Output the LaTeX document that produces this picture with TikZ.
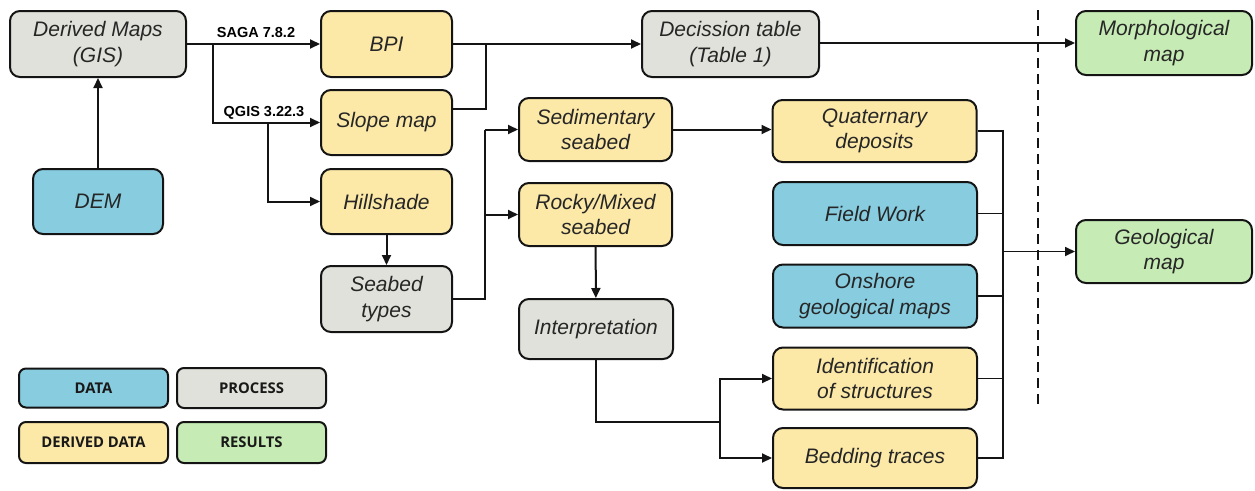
\documentclass[tikz,border=0pt]{standalone}
\usepackage{fontspec}
\setmainfont{Liberation Sans}
\newfontfamily\legendfont{Open Sans}
\usetikzlibrary{arrows.meta}
\definecolor{cdata}{RGB}{135,204,223}
\definecolor{cproc}{RGB}{225,225,219}
\definecolor{cderiv}{RGB}{252,233,168}
\definecolor{cres}{RGB}{198,235,181}
\definecolor{cline}{RGB}{20,20,20}
\tikzset{
  box/.style={draw=cline, line width=2pt, rounded corners=10pt, align=center, inner sep=0pt,
    font=\itshape\fontsize{21}{25.5}\selectfont, text=black!85},
  leg/.style={draw=cline, line width=2pt, rounded corners=7pt, align=center, inner sep=0pt,
    font=\legendfont\bfseries\fontsize{14.8}{16}\selectfont, text=black!90},
  conn/.style={draw=cline, line width=2pt},
  arr/.style={conn, -{Triangle[length=10pt,width=9pt]}},
  swlabel/.style={font=\bfseries\fontsize{14.5}{16}\selectfont, inner sep=0pt}
}
\begin{document}
\begin{tikzpicture}[x=1pt,y=-1pt]
\useasboundingbox (0,0) rectangle (1255,490);
% nodes
\node[box, fill=cproc, minimum width=176pt, minimum height=66pt] (dm) at (98,44) {Derived Maps\\(GIS)};
\node[box, fill=cdata, minimum width=130pt, minimum height=65pt] (dem) at (98,201.5) {DEM};
\node[box, fill=cderiv, minimum width=131pt, minimum height=66pt] (bpi) at (386.5,44) {BPI};
\node[box, fill=cderiv, minimum width=131pt, minimum height=65pt] (slope) at (386.5,122.5) {Slope map};
\node[box, fill=cderiv, minimum width=131pt, minimum height=65pt] (hill) at (386.5,201.5) {Hillshade};
\node[box, fill=cproc, minimum width=131pt, minimum height=66pt] (seabed) at (386.5,299) {Seabed\\types};
\node[box, fill=cproc, minimum width=177pt, minimum height=66pt] (dec) at (730.5,44) {Decission table\\(Table 1)};
\node[box, fill=cres, minimum width=176pt, minimum height=64pt] (morph) at (1164,43) {Morphological\\map};
\node[box, fill=cderiv, minimum width=153pt, minimum height=63pt] (sed) at (595.5,129.5) {Sedimentary\\seabed};
\node[box, fill=cderiv, minimum width=153pt, minimum height=63pt] (rocky) at (595.5,214.5) {Rocky/Mixed\\seabed};
\node[box, fill=cproc, minimum width=154pt, minimum height=60pt] (interp) at (596,329) {Interpretation};
\node[box, fill=cderiv, minimum width=204pt, minimum height=62pt] (quat) at (874.5,131) {Quaternary\\deposits};
\node[box, fill=cdata, minimum width=204pt, minimum height=63pt] (field) at (875,213.5) {Field Work};
\node[box, fill=cdata, minimum width=204pt, minimum height=63pt] (onshore) at (875,296) {Onshore\\geological maps};
\node[box, fill=cderiv, minimum width=204pt, minimum height=62pt] (ident) at (875,378.5) {Identification\\of structures};
\node[box, fill=cderiv, minimum width=204pt, minimum height=60pt] (bed) at (875,458) {Bedding traces};
\node[box, fill=cres, minimum width=176pt, minimum height=63pt] (geo) at (1164,251.5) {Geological\\map};
% legend
\node[leg, fill=cdata, minimum width=149pt, minimum height=39pt] (ldata) at (93.5,388) {DATA};
\node[leg, fill=cproc, minimum width=149pt, minimum height=40pt] (lproc) at (251.5,388) {PROCESS};
\node[leg, fill=cderiv, minimum width=149pt, minimum height=41pt] (lderiv) at (93.5,442.5) {DERIVED DATA};
\node[leg, fill=cres, minimum width=149pt, minimum height=41pt] (lres) at (251.5,442.5) {RESULTS};
% coordinates
\coordinate (j1) at (213,44);
\coordinate (j2) at (268,122.5);
\coordinate (j3) at (486,44);
\coordinate (j4) at (485,299);
\coordinate (j5) at (720,422);
\coordinate (bus) at (1003,131);
% connectors
\draw[arr] (dem) -- (dm);
\draw[arr] (dm.east) -- (bpi.west);
\node[swlabel, anchor=base] (saga) at (256,37) {SAGA 7.8.2};
\draw[arr] (j1) |- (slope.west);
\node[swlabel, anchor=base] (qgis) at (264,116) {QGIS 3.22.3};
\draw[arr] (j2) |- (hill.west);
\draw[arr] (hill) -- (seabed);
\draw[arr] (bpi.east) -- (dec.west);
\draw[conn] (slope.east |- 0,109) -| (j3);
\draw[conn] (seabed.east) -- (j4) -- (j4 |- sed.west);
\draw[arr] (j4 |- sed.west) -- (sed.west);
\draw[arr] (j4 |- rocky.west) -- (rocky.west);
\draw[arr] (rocky) -- (interp);
\draw[conn] (interp.south) |- (j5);
\draw[arr] (j5) |- (ident.west);
\draw[arr] (j5) |- (bed.west);
\draw[arr] (sed.east) -- (sed.east -| quat.west);
\draw[arr] (dec.east |- morph.west) -- (morph.west);
\draw[conn, line width=1.7pt] (quat.east) -- (bus) -- (bus |- bed.east) -- (bed.east);
\draw[conn, line width=1.7pt] (field.east) -- (field.east -| bus);
\draw[conn, line width=1.7pt] (onshore.east) -- (onshore.east -| bus);
\draw[conn, line width=1.7pt] (ident.east) -- (ident.east -| bus);
\draw[arr, line width=1.7pt] (bus |- geo.west) -- (geo.west);
\coordinate (dtop) at (1038,10);
\coordinate (dbot) at (1038,407);
\draw[conn, dash pattern=on 10pt off 6pt] (dtop) -- (dbot);
\end{tikzpicture}
\end{document}
